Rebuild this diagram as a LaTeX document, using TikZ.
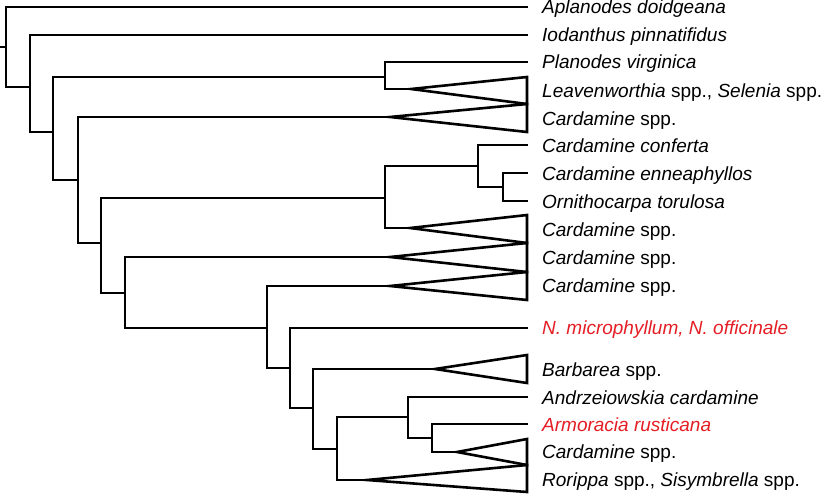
\documentclass[tikz,border=0pt]{standalone}
\usepackage{fontspec}
\setmainfont{Liberation Sans}
\definecolor{tred}{RGB}{228,30,36}
\begin{document}
\begin{tikzpicture}[x=1pt,y=-1pt,
  br/.style={line width=2.6pt, line join=miter, line cap=rect, black},
  tri/.style={line width=2.6pt, line join=miter, miter limit=20, black},
  lab/.style={anchor=base west, inner sep=0pt, font=\fontsize{19}{22}\selectfont},
  redlab/.style={lab, text=tred}]
\useasboundingbox (0,0) rectangle (827,495);
% tip ends
\coordinate (eA) at (527,7);
\coordinate (eI) at (527,35);
\coordinate (eP) at (527,62);
\coordinate (eCf) at (527,145);
\coordinate (eEn) at (527,173);
\coordinate (eOr) at (527,201);
\coordinate (eNm) at (527,328);
\coordinate (eAn) at (527,397);
\coordinate (eAr) at (527,424);
% internal nodes
\coordinate (r0) at (0,47);
\coordinate (r) at (6,47);
\coordinate (n2) at (30,87);
\coordinate (n3) at (53,132);
\coordinate (nPL) at (385,77);
\coordinate (n4) at (78,180);
\coordinate (n5) at (101,243);
\coordinate (nC) at (385,198);
\coordinate (nC2) at (478,166);
\coordinate (nC3) at (503,187);
\coordinate (n6) at (125,293);
\coordinate (n7) at (267,328);
\coordinate (n8) at (290,368);
\coordinate (n9) at (313,408);
\coordinate (n10) at (337,449);
\coordinate (n11) at (408,417);
\coordinate (n12) at (432,438);
% triangle apexes
\coordinate (aL) at (411,89);
\coordinate (aC1) at (390,117);
\coordinate (aC3) at (410,228);
\coordinate (aC4) at (390,257);
\coordinate (aC5) at (390,286);
\coordinate (aB) at (435,369);
\coordinate (aC6) at (457,452);
\coordinate (aR) at (367,480);
% branches
\draw[br] (r0) -- (r);
\draw[br] (r) |- (eA);   \draw[br] (r) |- (n2);
\draw[br] (n2) |- (eI);  \draw[br] (n2) |- (n3);
\draw[br] (n3) |- (nPL); \draw[br] (n3) |- (n4);
\draw[br] (nPL) |- (eP); \draw[br] (nPL) |- (aL);
\draw[br] (n4) |- (aC1); \draw[br] (n4) |- (n5);
\draw[br] (n5) |- (nC);  \draw[br] (n5) |- (n6);
\draw[br] (nC) |- (nC2); \draw[br] (nC) |- (aC3);
\draw[br] (nC2) |- (eCf); \draw[br] (nC2) |- (nC3);
\draw[br] (nC3) |- (eEn); \draw[br] (nC3) |- (eOr);
\draw[br] (n6) |- (aC4); \draw[br] (n6) |- (n7);
\draw[br] (n7) |- (aC5); \draw[br] (n7) |- (n8);
\draw[br] (n8) |- (eNm); \draw[br] (n8) |- (n9);
\draw[br] (n9) |- (aB);  \draw[br] (n9) |- (n10);
\draw[br] (n10) |- (n11); \draw[br] (n10) |- (aR);
\draw[br] (n11) |- (eAn); \draw[br] (n11) |- (n12);
\draw[br] (n12) |- (eAr); \draw[br] (n12) |- (aC6);
% collapsed clades
\draw[tri] (aL) -- (527,77) -- (527,104) -- cycle;
\draw[tri] (aC1) -- (527,104) -- (527,132) -- cycle;
\draw[tri] (aC3) -- (527,215) -- (527,243) -- cycle;
\draw[tri] (aC4) -- (527,243) -- (527,272) -- cycle;
\draw[tri] (aC5) -- (527,272) -- (527,300) -- cycle;
\draw[tri] (aB) -- (527,355) -- (527,383) -- cycle;
\draw[tri] (aC6) -- (527,439) -- (527,465) -- cycle;
\draw[tri] (aR) -- (527,465) -- (527,492) -- cycle;
% labels
\node[lab] (lA) at (542,14) {\itshape Aplanodes doidgeana};
\node[lab] (lI) at (542,42) {\itshape Iodanthus pinnatifidus};
\node[lab] (lP) at (542,69) {\itshape Planodes virginica};
\node[lab] (lL) at (542,97) {\textit{Leavenworthia} spp., \textit{Selenia} spp.};
\node[lab] (lC1) at (542,125) {\textit{Cardamine} spp.};
\node[lab] (lCf) at (542,152) {\itshape Cardamine conferta};
\node[lab] (lEn) at (542,180) {\itshape Cardamine enneaphyllos};
\node[lab] (lOr) at (542,208) {\itshape Ornithocarpa torulosa};
\node[lab] (lC3) at (542,236) {\textit{Cardamine} spp.};
\node[lab] (lC4) at (542,264) {\textit{Cardamine} spp.};
\node[lab] (lC5) at (542,292) {\textit{Cardamine} spp.};
\node[redlab] (lNm) at (542,334) {\itshape N. microphyllum, N. officinale};
\node[lab] (lB) at (542,376) {\textit{Barbarea} spp.};
\node[lab] (lAn) at (542,404) {\itshape Andrzeiowskia cardamine};
\node[redlab] (lAr) at (542,431) {\itshape Armoracia rusticana};
\node[lab] (lC6) at (542,458) {\textit{Cardamine} spp.};
\node[lab] (lR) at (542,486) {\textit{Rorippa} spp., \textit{Sisymbrella} spp.};
\end{tikzpicture}
\end{document}
